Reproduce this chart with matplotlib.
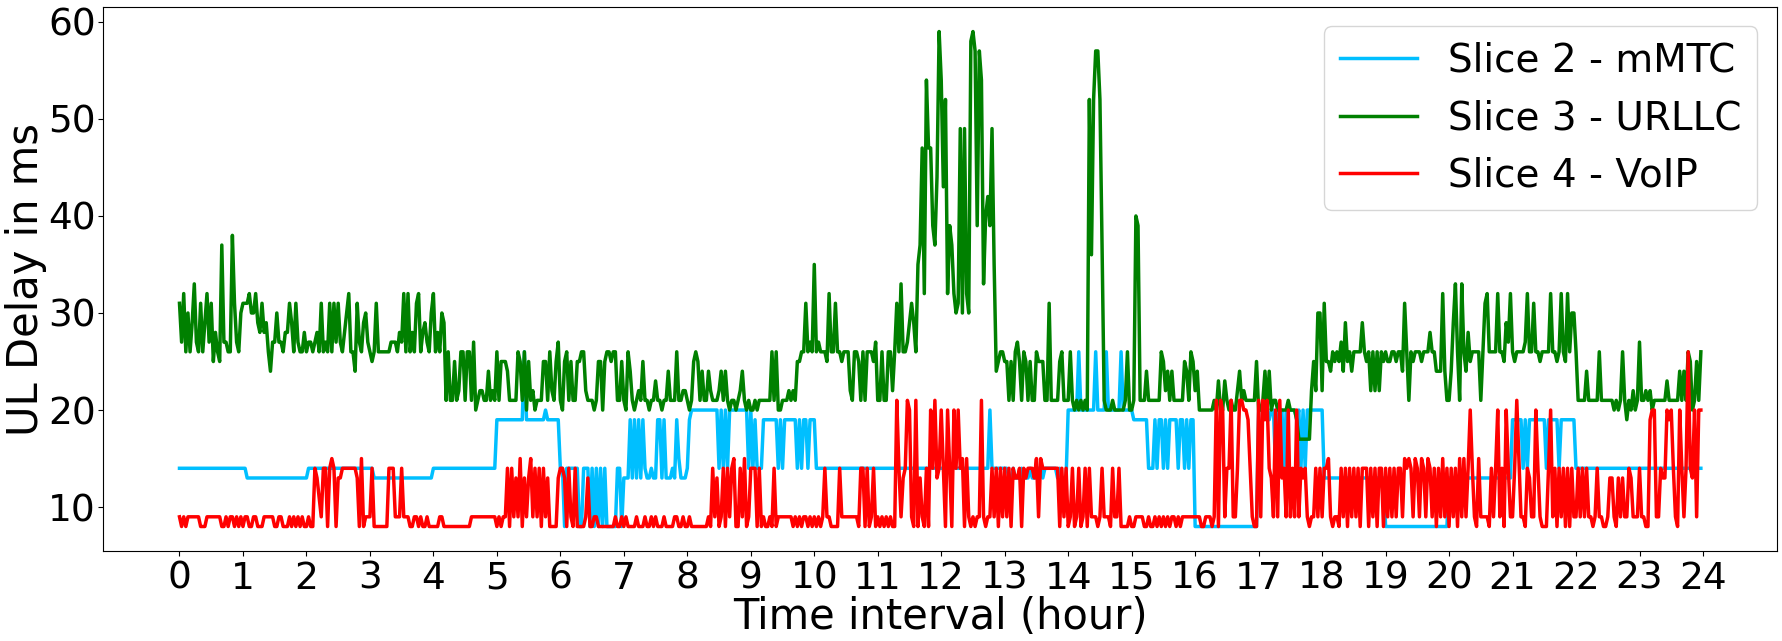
import numpy as np
import matplotlib
matplotlib.use('Agg')
import matplotlib.pyplot as plt

# UL delay (ms), one sample every 2 minutes, one row = one hour
mmtc = [
    14,14,14,14,14,14,14,14,14,14, 14,14,14,14,14,14,14,14,14,14, 14,14,14,14,14,14,14,14,14,14,
    14,14,13,13,13,13,13,13,13,13, 13,13,13,13,13,13,13,13,13,13, 13,13,13,13,13,13,13,13,13,13,
    13,14,14,14,14,14,14,14,14,14, 14,14,14,14,14,14,14,14,14,14, 14,14,14,14,14,14,14,14,14,14,
    14,14,13,13,13,13,13,13,13,13, 13,13,13,13,13,13,13,13,13,13, 13,13,13,13,13,13,13,13,13,13,
    14,14,14,14,14,14,14,14,14,14, 14,14,14,14,14,14,14,14,14,14, 14,14,14,14,14,14,14,14,14,14,
    19,19,19,19,19,19,19,19,19,19, 19,19,19,26,19,19,19,19,19,19, 19,19,19,20,19,19,19,19,19,19,
    14,14,8,14,14,14,14,14,14,8, 8,14,14,14,8,14,8,14,8,14, 8,14,8,8,8,8,8,14,14,8,
    13,13,13,19,13,19,13,19,13,19, 14,13,13,14,13,13,19,19,13,19, 13,13,13,14,13,19,15,13,13,13,
    14,19,20,20,20,20,20,20,20,20, 20,20,20,20,20,14,20,14,20,14, 20,20,20,20,20,20,20,20,20,14,
    20,14,19,14,14,14,19,19,19,19, 19,19,19,14,19,14,19,19,19,19, 19,19,14,19,14,19,19,14,19,19,
    19,14,14,14,14,14,14,14,14,14, 14,14,14,14,14,14,14,14,14,14, 14,14,14,14,14,14,14,14,14,14,
    14,14,14,14,14,14,14,14,14,14, 14,14,14,14,14,14,14,14,14,14, 14,14,14,14,14,14,14,14,14,14,
    14,14,14,14,14,14,14,14,14,14, 14,14,14,14,14,14,14,14,14,14, 14,14,14,20,14,14,14,14,14,14,
    14,14,13,13,14,13,13,13,14,13, 13,13,14,13,13,13,14,14,13,14, 14,14,14,14,14,13,14,13,13,13,
    20,20,20,20,20,26,20,20,20,20, 20,20,20,26,20,20,20,20,26,20, 20,20,20,20,20,26,20,20,20,20,
    20,19,19,19,19,19,19,19,14,14, 14,19,14,19,19,14,19,14,19,19, 19,19,14,19,19,14,19,14,19,19,
    8,8,8,8,8,8,8,8,8,8, 8,8,8,8,8,8,8,8,8,8, 8,8,8,8,8,8,8,8,8,8,
    20,20,20,20,20,19,20,20,14,20, 19,20,14,20,20,20,20,20,19,20, 14,20,14,20,20,20,20,20,20,20,
    20,13,13,13,13,13,13,13,13,13, 13,13,13,13,13,13,13,13,13,13, 13,13,13,13,13,13,13,13,13,13,
    8,8,8,8,8,8,8,8,8,8, 8,8,8,8,8,8,8,8,8,8, 8,8,8,8,8,8,8,8,8,8,
    13,13,13,13,13,13,13,13,13,13, 13,13,13,13,13,13,13,13,13,13, 13,13,13,13,13,13,13,13,13,13,
    19,19,19,19,19,14,19,14,19,19, 19,19,19,19,19,19,14,19,19,19, 19,19,14,19,19,19,19,19,19,19,
    14,14,14,14,14,14,14,14,14,14, 14,14,14,14,14,14,14,14,14,14, 14,14,14,14,14,14,14,14,14,14,
    14,14,14,14,14,14,14,14,14,14, 14,14,14,14,14,14,14,14,14,14, 14,14,14,14,14,14,14,14,14,14,
]

urllc = [
    31,27,32,26,30,26,29,33,27,26, 31,26,29,32,27,31,25,28,26,25, 37,27,27,26,26,38,31,27,26,30,
    31,31,31,32,30,30,32,29,28,31, 28,29,26,24,27,27,30,27,27,26, 28,28,31,29,26,31,27,26,26,28,
    26,27,27,26,27,28,26,31,26,27, 26,31,26,31,27,31,27,26,28,30, 32,26,26,24,31,27,26,29,30,27,
    26,25,26,31,26,26,26,26,26,26, 27,27,27,26,28,27,32,26,32,26, 28,26,31,32,26,28,29,27,26,30,
    32,26,28,26,30,29,21,26,21,21, 25,21,22,26,26,21,26,26,21,27, 20,21,22,22,21,21,24,21,22,21,
    26,21,25,25,25,24,21,21,21,21, 26,25,21,26,20,25,21,22,20,21, 21,21,25,25,21,26,22,21,25,27,
    21,20,25,26,21,25,21,21,25,25, 26,26,22,21,21,21,20,21,25,25, 20,25,26,26,25,26,26,21,21,25,
    21,20,26,24,21,20,21,22,21,25, 21,21,20,21,21,23,21,21,20,21, 21,24,21,21,21,26,21,21,22,22,
    21,20,21,25,26,25,21,24,21,21, 24,22,21,21,21,22,24,21,24,21, 20,21,21,20,21,22,24,21,20,21,
    20,20,21,20,21,21,21,21,21,21, 26,21,26,20,20,21,21,21,22,21, 22,21,25,25,26,26,31,26,27,26,
    35,26,27,26,26,26,25,32,26,26, 31,26,26,25,26,26,26,22,21,26, 26,25,21,26,21,26,26,26,25,27,
    21,21,26,21,21,26,26,22,26,31, 26,33,26,26,27,29,31,29,26,35, 37,47,32,54,47,47,39,37,44,59,
    54,43,52,32,39,37,32,30,31,49, 30,49,32,30,58,59,57,39,57,54, 33,40,42,39,49,35,24,25,26,26,
    25,25,21,25,21,26,27,25,21,26, 25,21,25,21,21,26,25,25,25,21, 21,31,21,21,21,21,25,26,21,21,
    21,26,21,20,21,20,21,20,21,20, 52,36,52,57,57,52,37,21,20,20, 20,21,20,20,20,20,20,21,26,20,
    20,21,40,39,21,21,21,24,21,21, 21,21,21,21,26,25,22,24,21,24, 21,21,21,21,21,25,24,21,26,25,
    22,24,20,20,20,20,20,20,20,21, 20,23,20,20,23,21,20,21,20,20, 22,24,21,22,21,21,21,21,21,25,
    20,20,21,24,20,24,20,21,21,20, 20,20,20,20,21,20,20,20,19,17, 17,17,17,17,17,22,25,22,30,30,
    22,31,25,25,24,26,25,26,25,27, 24,29,25,26,24,26,26,26,26,29, 26,25,26,22,26,22,26,22,26,25,
    26,25,25,26,26,25,26,26,24,31, 26,21,26,25,26,26,26,25,26,26, 26,28,26,26,24,24,24,32,24,21,
    21,24,29,33,26,21,33,26,24,28, 25,26,26,26,26,21,26,31,32,26, 26,26,26,32,26,26,25,29,27,32,
    26,25,26,26,26,26,27,32,26,26, 31,26,26,25,26,26,26,26,32,26, 26,25,26,32,26,25,32,26,30,30,
    26,21,21,21,21,24,21,21,21,21, 21,26,21,21,21,21,21,21,20,21, 20,21,26,21,19,21,20,22,20,21,
    27,21,21,22,21,22,20,21,21,21, 21,21,21,23,21,21,21,21,21,24, 21,24,21,26,25,20,21,25,21,26,
]

voip = [
    9,8,9,8,9,9,9,9,9,9, 8,8,8,9,9,9,9,9,9,9, 8,8,9,8,9,9,8,9,8,9,
    8,9,9,8,8,9,9,8,8,8, 9,9,9,9,9,8,8,9,9,8, 8,8,9,8,9,8,9,8,9,8,
    8,9,8,8,14,13,11,9,14,14, 8,14,15,14,8,13,13,14,14,14, 14,14,14,14,13,8,15,8,9,9,
    9,14,8,8,8,8,8,8,8,14, 14,14,9,9,9,14,9,9,9,8, 8,9,9,8,9,8,8,9,8,8,
    8,8,8,9,9,8,8,8,8,8, 8,8,8,8,8,8,8,8,9,9, 9,9,9,9,9,9,9,9,9,9,
    8,9,8,9,9,14,8,14,9,13, 9,15,8,13,9,13,15,9,14,9, 14,8,14,9,13,8,8,8,8,13,
    14,14,13,8,14,9,8,14,8,8, 8,8,9,13,8,8,9,9,8,8, 8,8,8,8,8,8,9,8,8,9,
    8,9,8,8,8,8,9,8,8,8, 9,8,8,9,8,9,8,8,8,9, 8,8,8,8,9,9,8,8,9,8,
    8,9,8,8,8,8,8,8,8,8, 9,8,14,9,13,8,9,14,8,14, 9,14,15,8,8,14,9,15,8,9,
    14,14,14,8,14,8,9,8,8,9, 8,14,8,9,9,9,9,9,9,9, 8,9,8,9,8,9,9,8,9,8,
    9,8,9,8,9,14,9,9,8,8, 8,8,14,9,9,9,9,9,9,9, 9,8,14,14,8,14,8,9,14,8,
    9,8,9,8,9,8,9,8,8,21, 14,9,13,14,21,20,9,8,21,8, 13,9,8,14,8,20,14,21,13,14,
    20,14,8,20,14,8,20,14,20,14, 15,8,15,9,8,9,8,9,9,21, 9,8,9,9,14,9,14,8,14,9,
    14,9,14,8,14,13,13,14,8,14, 13,14,14,14,13,15,9,15,14,14, 14,14,14,14,14,14,8,14,9,14,
    8,9,14,8,9,14,8,9,14,8, 14,9,9,9,8,9,14,9,9,9, 8,14,9,9,14,8,8,8,8,9,
    8,8,9,9,9,9,8,8,9,8, 8,9,8,9,8,9,8,9,8,9, 9,8,9,8,9,9,9,9,9,9,
    9,9,9,8,8,9,9,9,8,9, 21,8,21,20,9,14,14,21,9,9, 14,21,21,20,20,19,14,9,8,8,
    21,9,21,19,21,14,13,9,20,9, 21,13,14,9,20,9,14,9,20,9, 14,13,14,9,8,9,9,14,9,14,
    9,14,14,15,9,8,9,9,8,14, 9,14,8,14,9,14,9,14,8,14, 14,14,8,14,9,14,8,14,14,8,
    14,9,14,9,14,9,14,14,9,15, 14,15,14,9,15,14,9,15,14,9, 15,14,9,14,8,14,9,15,9,14,
    8,14,9,14,8,15,9,15,9,14, 20,14,9,8,15,9,9,9,9,8, 14,9,14,20,9,14,8,20,14,9,
    9,14,21,15,9,9,8,14,13,9, 9,20,14,9,8,8,8,14,20,9, 14,8,14,9,14,8,14,8,14,9,
    9,14,9,14,9,14,9,9,8,9, 14,9,9,8,8,9,13,13,9,8, 13,9,13,9,9,14,13,9,9,9,
    14,9,9,8,8,19,20,20,9,9, 14,13,13,20,19,20,14,9,8,20, 14,9,14,26,14,13,20,9,20,20,
]

hours = np.arange(len(urllc)) / 30

fig = plt.figure(figsize=(17.83, 6.41), dpi=100)
ax = fig.add_axes([0.058, 0.14, 0.9386, 0.8494])

ax.plot(hours, mmtc, color='deepskyblue', linewidth=2.5, label='Slice 2 - mMTC')
ax.plot(hours, urllc, color='green', linewidth=2.5, label='Slice 3 - URLLC')
ax.plot(hours, voip, color='red', linewidth=2.5, label='Slice 4 - VoIP')

ax.set_xticks(range(25))
ax.tick_params(labelsize=27)
ax.tick_params(axis='y', pad=2)
ax.set_xlabel('Time interval (hour)', fontsize=30, labelpad=-1)
ax.set_ylabel('UL Delay in ms', fontsize=30, labelpad=1)
ax.legend(fontsize=28, loc='upper right')

fig.savefig('out.png')
